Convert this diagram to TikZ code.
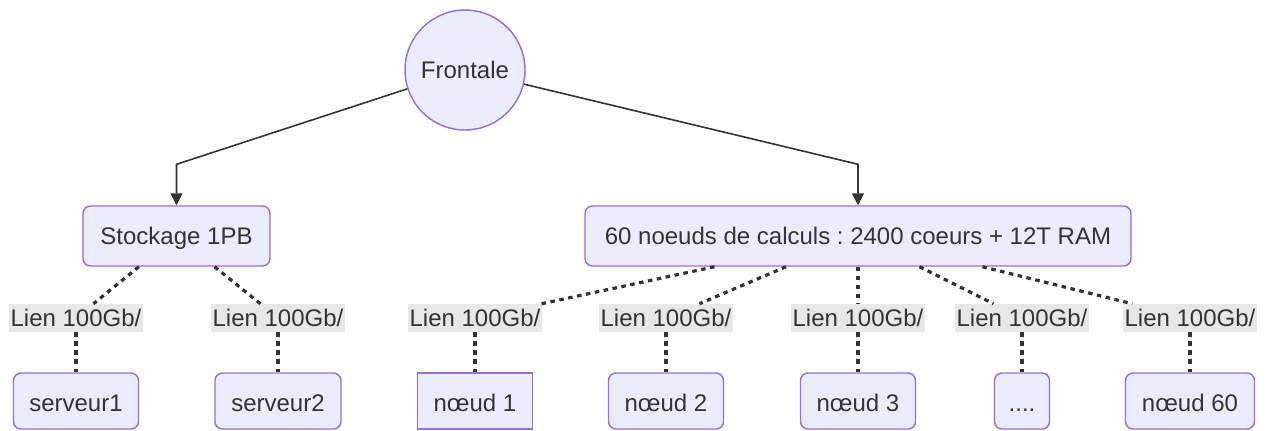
\documentclass[tikz,border=0pt]{standalone}
\usepackage{fontspec}
\setmainfont{Liberation Sans}
\usetikzlibrary{arrows.meta,calc}
\definecolor{nodefill}{HTML}{ECECFF}
\definecolor{nodeline}{HTML}{9370DB}
\definecolor{ink}{HTML}{333333}
\definecolor{lblbg}{HTML}{E8E8E8}
\frenchspacing
\begin{document}
\begin{tikzpicture}[x=0.75pt,y=-0.75pt,
  every node/.style={font=\fontsize{18}{21}\selectfont, text=ink, inner sep=0pt, text height=12.9pt, text depth=0pt},
  boxshape/.style={draw=nodeline, fill=nodefill, line width=1.1pt, rounded corners=5.6pt},
  topbox/.style={boxshape, minimum height=45pt},
  botbox/.style={boxshape, minimum height=42pt, text height=15.9pt},
  sharpbox/.style={draw=nodeline, fill=nodefill, line width=1.1pt, minimum height=42pt, text height=15.9pt},
  lbl/.style={fill=lblbg, minimum width=100.5pt, minimum height=21pt},
  arrowlink/.style={draw=ink, line width=1.2pt, -{Triangle[length=9pt,width=9pt]}},
  dotlink/.style={draw=ink, line width=2.4pt, dash pattern=on 3.4pt off 3.4pt}]
\useasboundingbox (0,0) rectangle (1268,430);
% main nodes
\node[circle, draw=nodeline, fill=nodefill, line width=1.1pt, minimum size=90pt] (F) at (465,70) {Frontale};
\node[topbox, minimum width=140.25pt] (S) at (176.5,236) {Stockage 1PB};
\node[topbox, minimum width=409.5pt] (C) at (858,236) {60 noeuds de calculs : 2400 coeurs + 12T RAM};
% edge labels
\node[lbl] (L1) at (76,318) {Lien 100Gb/};
\node[lbl] (L2) at (278,318) {Lien 100Gb/};
\node[lbl] (L3) at (475,318) {Lien 100Gb/};
\node[lbl] (L4) at (666,318) {Lien 100Gb/};
\node[lbl] (L5) at (858,318) {Lien 100Gb/};
\node[lbl] (L6) at (1022,318) {Lien 100Gb/};
\node[lbl] (L7) at (1190,318) {Lien 100Gb/};
% leaf nodes
\node[botbox, minimum width=93.75pt] (B1) at (76,401) {serveur1};
\node[botbox, minimum width=94.5pt] (B2) at (278,401) {serveur2};
\node[sharpbox, minimum width=86.25pt] (N1) at (475,401) {nœud 1};
\node[botbox, minimum width=86.25pt] (N2) at (666,401) {nœud 2};
\node[botbox, minimum width=86.25pt] (N3) at (858,401) {nœud 3};
\node[botbox, minimum width=41.25pt] (N4) at (1022,401) {....};
\node[botbox, minimum width=96.75pt] (N5) at (1190,401) {nœud 60};
% elbow coordinates
\coordinate (kS) at ($(S.north)+(0,-41)$);
\coordinate (kC) at ($(C.north)+(0,-41)$);
% solid arrows
\draw[arrowlink] (F) -- (kS) -- (S.north);
\draw[arrowlink] (F) -- (kC) -- (C.north);
% dotted links
\draw[dotlink] (S) -- (L1); \draw[dotlink] (L1) -- (B1);
\draw[dotlink] (S) -- (L2); \draw[dotlink] (L2) -- (B2);
\draw[dotlink] (C) -- (L3); \draw[dotlink] (L3) -- (N1);
\draw[dotlink] (C) -- (L4); \draw[dotlink] (L4) -- (N2);
\draw[dotlink] (C) -- (L5); \draw[dotlink] (L5) -- (N3);
\draw[dotlink] (C) -- (L6); \draw[dotlink] (L6) -- (N4);
\draw[dotlink] (C) -- (L7); \draw[dotlink] (L7) -- (N5);
\end{tikzpicture}
\end{document}
